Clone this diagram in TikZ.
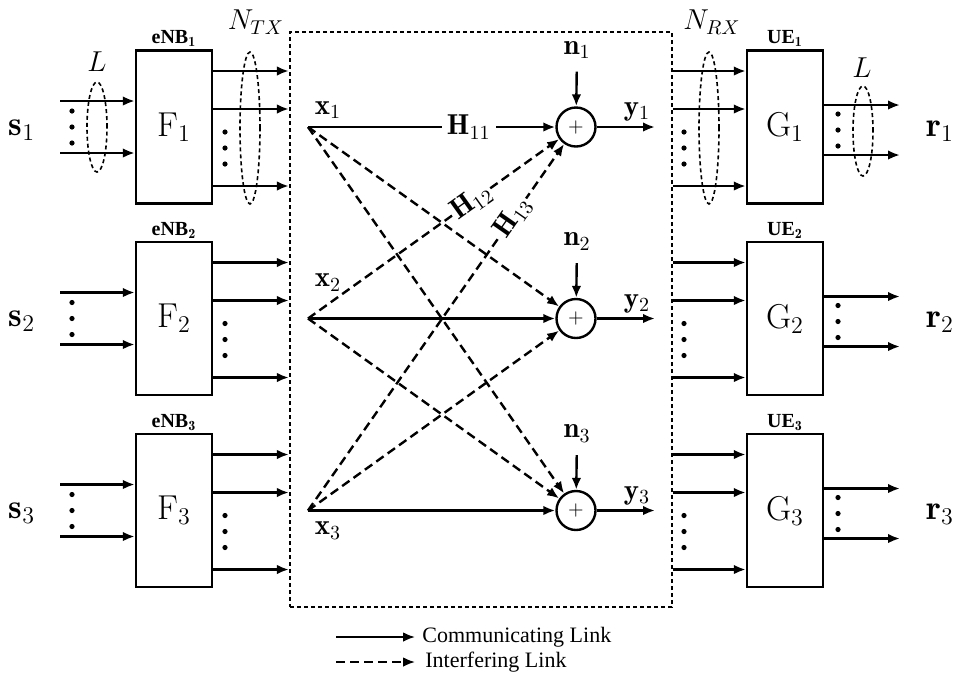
\documentclass[tikz,border=0pt]{standalone}
\usepackage{amsmath, amssymb}
\usepackage{fontspec}
\newfontfamily\legendfont{Liberation Serif}
\usepackage{tikz}
\usetikzlibrary{positioning,arrows.meta,calc}

% three dots in a column
\newcommand{\dotcol}[2]{\foreach \d in {-1,0,1} \fill (#1,#2+\d*16) circle (1.3pt);}

\begin{document}
\begin{tikzpicture}[x=0.5pt,y=-0.5pt,
  commlink/.style={line width=1.2pt,-{Latex[length=6pt,width=4.8pt]}},
  intflink/.style={commlink,dash pattern=on 4.5pt off 2.5pt},
  block/.style={draw,line width=1.2pt,minimum width=38pt,minimum height=76.5pt,inner sep=0pt},
  adder/.style={draw,circle,line width=1.2pt,minimum size=19.5pt,inner sep=0pt},
  bundle/.style={line width=0.8pt,dash pattern=on 2pt off 1.5pt},
  tag/.style={inner sep=1pt,font=\legendfont\bfseries}]
  \useasboundingbox (0,0) rectangle (958,677);

  % channel box
  \node[draw,line width=1.1pt,dash pattern=on 2pt off 1.5pt,inner sep=0pt,
        minimum width=191pt,minimum height=287.5pt] (chan) at (481,319.5) {};

  \foreach \i/\c/\xo in {1/127/-17,2/318.5/-36,3/510.5/20} {
    % transmitter side
    \node[block] (F\i) at (174,\c) {\LARGE$\mathrm{F}_{\i}$};
    \node[tag,above=0pt of F\i] (eNB\i) {eNB$_{\mathbf{\i}}$};
    \node (s\i) at (22,\c+3) {\LARGE$\mathbf{s}_{\i}$};
    \coordinate (sa\i) at (60,\c-26);
    \coordinate (sb\i) at (60,\c+26);
    \draw[commlink] (sa\i) -- (sa\i -| F\i.west);
    \draw[commlink] (sb\i) -- (sb\i -| F\i.west);
    \dotcol{72}{\c}
    \foreach \o/\k in {-56/a,-18/b,59/c} {
      \coordinate (ft\i\k) at ($(F\i.east)+(0,\o)$);
      \draw[commlink] (ft\i\k) -- (ft\i\k -| chan.west);
    }
    \dotcol{225}{\c+21}

    % channel
    \coordinate (x\i) at (308,\c);
    \node (xl\i) at (328,\c+\xo) {\Large$\mathbf{x}_{\i}$};
    \node[adder] (add\i) at (576,\c) {$+$};
    \node (n\i) at (577,\c-77) {\Large$\mathbf{n}_{\i}$};
    \draw[commlink,shorten <=3pt] (n\i) -- (add\i);
    \coordinate (yo\i) at (655,\c);
    \draw[commlink] (add\i) -- (yo\i);
    \node (y\i) at (637,\c-15) {\Large$\mathbf{y}_{\i}$};

    % receiver side
    \node[block] (G\i) at (785,\c) {\LARGE$\mathrm{G}_{\i}$};
    \node[tag,above=0pt of G\i] (UE\i) {UE$_{\mathbf{\i}}$};
    \foreach \o/\k in {-56/a,-18/b,59/c} {
      \coordinate (gi\i\k) at ($(G\i.west)+(0,\o)$);
      \draw[commlink] (gi\i\k -| chan.east) -- (gi\i\k);
    }
    \dotcol{684}{\c+21}
    \coordinate (ra\i) at (900,\c-22);
    \coordinate (rb\i) at (900,\c+28);
    \draw[commlink] (ra\i -| G\i.east) -- (ra\i);
    \draw[commlink] (rb\i -| G\i.east) -- (rb\i);
    \dotcol{838}{\c+3}
    \node (r\i) at (940,\c+4) {\LARGE$\mathbf{r}_{\i}$};
  }

  % antenna groups
  \draw[bundle] (97,127) ellipse (5pt and 22.5pt);
  \node (Lin) at (97,62) {\Large$L$};
  \draw[bundle] (250,128) ellipse (5pt and 38pt);
  \node (Ntx) at (256,22) {\Large$N_{TX}$};
  \draw[bundle] (709,128) ellipse (5pt and 38pt);
  \node (Nrx) at (712,22) {\Large$N_{RX}$};
  \draw[bundle] (863,131) ellipse (5pt and 22.5pt);
  \node (Lout) at (862,68) {\Large$L$};

  % links
  \draw[intflink] (x1) -- (add2);
  \draw[intflink] (x1) -- (add3);
  \draw[intflink] (x2) -- (add3);
  \draw[intflink] (x3) -- (add2);
  \draw[intflink] (x2) -- (add1) node[pos=0.65,sloped,fill=white,inner sep=0.5pt] (H12) {\Large$\mathbf{H}_{12}$};
  \draw[intflink] (x3) -- (add1) node[pos=0.8,sloped,fill=white,inner sep=0.5pt] (H13) {\Large$\mathbf{H}_{13}$};
  \draw[commlink] (x1) -- (add1) node[pos=0.65,fill=white,inner sep=2.5pt] (H11) {\Large$\mathbf{H}_{11}$};
  \draw[commlink] (x2) -- (add2);
  \draw[commlink] (x3) -- (add3);

  % legend
  \coordinate (lga) at (336,637);
  \coordinate (lgb) at (415,637);
  \coordinate (lgc) at (336,662);
  \coordinate (lgd) at (415,662);
  \draw[commlink,line width=0.9pt] (lga) -- (lgb);
  \draw[intflink,line width=0.9pt] (lgc) -- (lgd);
  \node[anchor=west,inner sep=0pt,font=\legendfont\fontsize{11}{13}\selectfont] (lgcomm) at (422,637) {Communicating Link};
  \node[anchor=west,inner sep=0pt,font=\legendfont\fontsize{11}{13}\selectfont] (lgintf) at (425,662) {Interfering Link};
\end{tikzpicture}
\end{document}
